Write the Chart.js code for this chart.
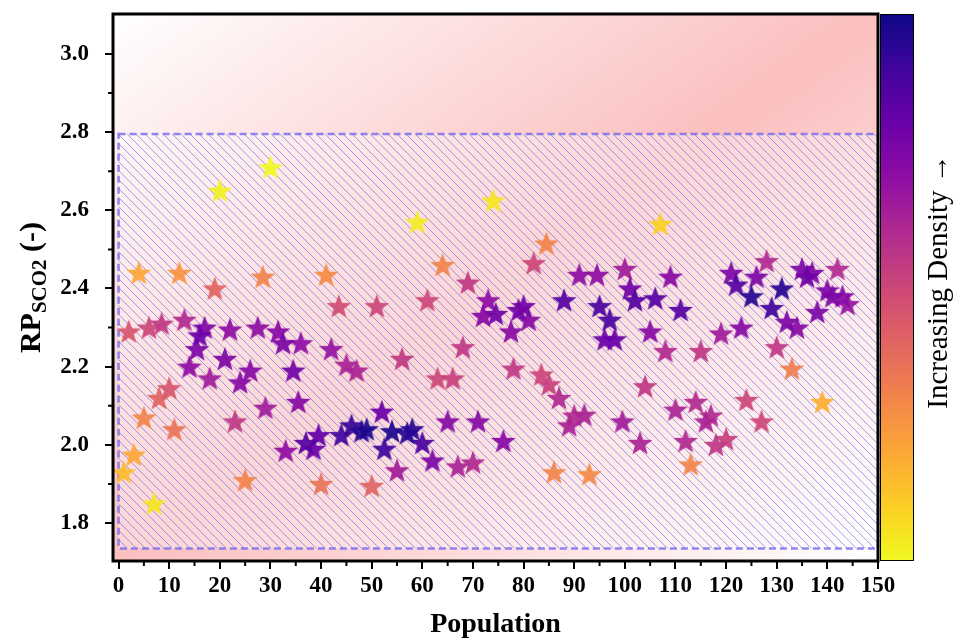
<!DOCTYPE html>
<html>
<head>
<meta charset="utf-8">
<script src="https://cdn.jsdelivr.net/npm/chart.js@4.4.0/dist/chart.umd.min.js"></script>
<style>
  html, body { margin: 0; padding: 0; background: #fff; }
  #wrap { width: 958px; height: 644px; }
</style>
</head>
<body>
<div id="wrap"><canvas id="c"></canvas></div>
<script>
// population index of each solution
const popX = [1, 3, 5, 7, 2, 4, 6, 8.5, 8, 10, 11, 12, 13, 14, 15.5, 16, 17, 18, 19, 20,
  21, 22, 23, 24, 25, 26, 27.5, 28.5, 29, 30, 31.5, 32.5, 33, 34.5, 36, 35.5, 37, 38.5, 39.5, 40,
  41, 42, 43.5, 45, 47, 44, 46, 48, 49, 50, 51, 52, 52.5, 54, 55, 56, 57, 58, 59, 60,
  61, 62, 63, 64, 65, 66, 67, 68, 69, 70, 71, 72, 73, 74, 74.5, 76, 77.5, 78, 79, 80,
  81, 82, 83.5, 84.5, 85, 86, 87, 88, 89, 90, 91, 92, 93, 94.5, 95, 96, 97, 98, 99.5, 100,
  101, 102, 103, 104, 105, 106, 107, 108, 109, 110, 111, 112, 113, 114, 115, 116, 117, 118, 119, 120,
  121, 122, 123, 124, 125, 126, 127, 128, 129, 130, 131, 132, 133, 134, 135, 136, 137, 138, 139, 140,
  141, 142, 143, 144];

// RP_SCO2 values
const rpY = [1.93, 1.975, 2.07, 1.85, 2.29, 2.44, 2.30, 2.31, 2.12, 2.145, 2.04, 2.44, 2.32, 2.20, 2.245, 2.28, 2.30, 2.17, 2.40, 2.65,
  2.22, 2.295, 2.06, 2.16, 1.91, 2.19, 2.30, 2.43, 2.095, 2.71, 2.29, 2.26, 1.985, 2.19, 2.26, 2.11, 2.005, 1.99, 2.025, 1.90,
  2.435, 2.245, 2.355, 2.205, 2.19, 2.025, 2.05, 2.035, 2.04, 1.895, 2.355, 2.085, 1.99, 2.035, 1.935, 2.22, 2.03, 2.04, 2.57, 2.005,
  2.37, 1.96, 2.17, 2.46, 2.06, 2.17, 1.945, 2.25, 2.415, 1.955, 2.06, 2.33, 2.37, 2.625, 2.335, 2.01, 2.29, 2.195, 2.345, 2.355,
  2.32, 2.465, 2.18, 2.515, 2.155, 1.93, 2.12, 2.37, 2.05, 2.075, 2.435, 2.077, 1.925, 2.435, 2.355, 2.27, 2.32, 2.27, 2.06, 2.45,
  2.40, 2.37, 2.005, 2.15, 2.29, 2.375, 2.565, 2.24, 2.43, 2.09, 2.345, 2.01, 1.95, 2.11, 2.24, 2.06, 2.075, 2.00, 2.285, 2.015,
  2.44, 2.41, 2.30, 2.115, 2.38, 2.43, 2.06, 2.47, 2.35, 2.25, 2.40, 2.315, 2.195, 2.30, 2.45, 2.43, 2.44, 2.34, 2.11, 2.395,
  2.38, 2.45, 2.38, 2.36];

// normalised point density (1 = densest)
const density = [0.15, 0.2, 0.3, 0.05, 0.45, 0.2, 0.5, 0.55, 0.4, 0.45, 0.35, 0.25, 0.6, 0.7, 0.75, 0.8, 0.75, 0.65, 0.4, 0.02,
  0.75, 0.7, 0.55, 0.72, 0.3, 0.72, 0.7, 0.3, 0.65, 0.0, 0.72, 0.75, 0.7, 0.78, 0.7, 0.72, 0.85, 0.8, 0.82, 0.35,
  0.28, 0.68, 0.48, 0.62, 0.62, 0.9, 0.92, 0.95, 0.97, 0.4, 0.5, 0.8, 0.9, 0.97, 0.65, 0.55, 0.95, 0.95, 0.03, 0.88,
  0.5, 0.75, 0.5, 0.3, 0.72, 0.52, 0.62, 0.55, 0.55, 0.6, 0.72, 0.72, 0.7, 0.05, 0.78, 0.72, 0.72, 0.55, 0.78, 0.78,
  0.72, 0.5, 0.5, 0.3, 0.52, 0.3, 0.6, 0.85, 0.62, 0.6, 0.7, 0.62, 0.28, 0.7, 0.88, 0.8, 0.88, 0.8, 0.65, 0.65,
  0.78, 0.85, 0.62, 0.55, 0.72, 0.85, 0.1, 0.6, 0.72, 0.62, 0.85, 0.6, 0.3, 0.6, 0.55, 0.62, 0.6, 0.55, 0.65, 0.52,
  0.75, 0.85, 0.72, 0.5, 0.95, 0.75, 0.5, 0.6, 0.9, 0.55, 0.95, 0.75, 0.32, 0.72, 0.75, 0.78, 0.75, 0.75, 0.18, 0.75,
  0.75, 0.6, 0.72, 0.68];

const xTickValues = [0, 10, 20, 30, 40, 50, 60, 70, 80, 90, 100, 110, 120, 130, 140, 150];
const xMinorTicks = [5, 15, 25, 35, 45, 55, 65, 75, 85, 95, 105, 115, 125, 135, 145];
const yTickValues = [1.8, 2.0, 2.2, 2.4, 2.6, 2.8, 3.0];
const yMinorTicks = [1.9, 2.1, 2.3, 2.5, 2.7, 2.9];
// feasible region (hatched box), in data units
const boxX = [0, 150];
const boxY = [1.735, 2.795];

const SERIF = "'Liberation Serif', 'Times New Roman', serif";

// plasma colormap stops
const plasmaStops = ['#0d0887', '#41049d', '#6a00a8', '#8f0da4', '#b12a90', '#cc4778',
  '#e16462', '#f2844b', '#fca636', '#fcce25', '#f0f921'];

function hexToRgb(h) {
  return [parseInt(h.slice(1, 3), 16), parseInt(h.slice(3, 5), 16), parseInt(h.slice(5, 7), 16)];
}
function plasma(t) {
  t = Math.min(1, Math.max(0, t));
  const f = t * (plasmaStops.length - 1);
  const i = Math.min(Math.floor(f), plasmaStops.length - 2);
  const u = f - i;
  const a = hexToRgb(plasmaStops[i]), b = hexToRgb(plasmaStops[i + 1]);
  return 'rgb(' + a.map((v, k) => Math.round(v + (b[k] - v) * u)).join(',') + ')';
}

// filled five-point star images, one per colour
const starCache = {};
function starImage(color) {
  if (starCache[color]) return starCache[color];
  const size = 28, R = 13, r = 5.4;
  const cv = document.createElement('canvas');
  cv.width = size; cv.height = size;
  const g = cv.getContext('2d');
  g.beginPath();
  for (let k = 0; k < 10; k++) {
    const rad = k % 2 === 0 ? R : r;
    const ang = -Math.PI / 2 + k * Math.PI / 5;
    const px = size / 2 + rad * Math.cos(ang), py = size / 2 + 1 + rad * Math.sin(ang);
    k === 0 ? g.moveTo(px, py) : g.lineTo(px, py);
  }
  g.closePath();
  g.globalAlpha = 0.93;
  g.fillStyle = color;
  g.fill();
  starCache[color] = cv;
  return cv;
}

// draw the densest points last so they sit on top
const order = popX.map((_, i) => i).sort((a, b) => density[a] - density[b]);
const points = order.map(i => ({ x: popX[i], y: rpY[i], d: density[i] }));

const backdrop = {
  id: 'backdrop',
  beforeDraw(chart) {
    const { ctx, chartArea: a, scales: { x, y } } = chart;
    ctx.save();
    // diagonal pink wash over the plot area
    ctx.translate(a.left, a.top);
    ctx.scale(a.width, a.height);
    const g = ctx.createLinearGradient(0, 0, 1, 1);
    g.addColorStop(0, '#ffffff');
    g.addColorStop(0.5, '#fbbfbf');
    g.addColorStop(1, '#ffffff');
    ctx.fillStyle = g;
    ctx.fillRect(0, 0, 1, 1);
    ctx.restore();

    // hatched feasible box
    const l = x.getPixelForValue(boxX[0]), r = x.getPixelForValue(boxX[1]);
    const t = y.getPixelForValue(boxY[1]), b = y.getPixelForValue(boxY[0]);
    ctx.save();
    ctx.fillStyle = 'rgba(255,255,255,0.35)';
    ctx.fillRect(l, t, r - l, b - t);
    ctx.beginPath();
    ctx.rect(l, t, r - l, b - t);
    ctx.clip();
    ctx.strokeStyle = 'rgba(95,95,240,0.6)';
    ctx.lineWidth = 1;
    ctx.beginPath();
    const h = b - t;
    for (let s = l - h; s < r + 9; s += 9) {
      ctx.moveTo(s, t);
      ctx.lineTo(s + h, b);
    }
    ctx.stroke();
    ctx.restore();

    ctx.save();
    ctx.strokeStyle = 'rgba(115,105,240,0.8)';
    ctx.lineWidth = 2.5;
    ctx.setLineDash([7, 4]);
    ctx.strokeRect(l, t, r - l, b - t);
    ctx.restore();
  },
  afterDraw(chart) {
    const { ctx, chartArea: a, scales: { x, y } } = chart;
    ctx.save();
    // minor ticks
    ctx.strokeStyle = '#000';
    ctx.lineWidth = 2;
    ctx.beginPath();
    xMinorTicks.forEach(v => {
      const px = x.getPixelForValue(v);
      ctx.moveTo(px, a.bottom); ctx.lineTo(px, a.bottom + 5);
    });
    yMinorTicks.forEach(v => {
      const py = y.getPixelForValue(v);
      ctx.moveTo(a.left, py); ctx.lineTo(a.left - 5, py);
    });
    ctx.stroke();

    // frame
    ctx.lineWidth = 3;
    ctx.strokeRect(a.left, a.top, a.width, a.height);

    // colour bar
    const cx = a.right + 2, cw = 33;
    const cg = ctx.createLinearGradient(0, a.bottom, 0, a.top);
    plasmaStops.slice().reverse().forEach((c, k) => cg.addColorStop(k / (plasmaStops.length - 1), c));
    ctx.fillStyle = cg;
    ctx.fillRect(cx, a.top, cw, a.height);
    ctx.lineWidth = 1;
    ctx.strokeRect(cx + 0.5, a.top + 0.5, cw, a.height - 1);

    ctx.fillStyle = '#000';
    ctx.translate(939, (a.top + a.bottom) / 2 - 6);
    ctx.rotate(-Math.PI / 2);
    ctx.font = '29px ' + SERIF;
    ctx.textAlign = 'center';
    ctx.textBaseline = 'middle';
    ctx.fillText('Increasing Density \u2192', 0, 0);
    ctx.restore();

    // y axis title with subscript
    ctx.save();
    ctx.fillStyle = '#000';
    ctx.translate(30, (a.top + a.bottom) / 2);
    ctx.rotate(-Math.PI / 2);
    ctx.textBaseline = 'alphabetic';
    const big = 'bold 30px ' + SERIF, small = 'bold 21px ' + SERIF;
    ctx.font = big; const w1 = ctx.measureText('RP').width; const w3 = ctx.measureText(' (-)').width;
    ctx.font = small; const w2 = ctx.measureText('SCO2').width;
    let sx = -(w1 + w2 + w3) / 2;
    const base = 10;
    ctx.font = big; ctx.fillText('RP', sx, base); sx += w1;
    ctx.font = small; ctx.fillText('SCO2', sx, base + 6); sx += w2;
    ctx.font = big; ctx.fillText(' (-)', sx, base);
    ctx.restore();
  }
};

new Chart(document.getElementById('c'), {
  type: 'scatter',
  data: {
    datasets: [{
      data: points,
      pointStyle: c => starImage(plasma(1 - c.raw.d)),
      pointRadius: 13
    }]
  },
  options: {
    responsive: true,
    maintainAspectRatio: false,
    animation: false,
    events: [],
    layout: { padding: { top: 12, right: 80, left: 0, bottom: 0 } },
    plugins: { legend: { display: false }, tooltip: { enabled: false } },
    scales: {
      x: {
        type: 'linear',
        min: -1.1,
        max: 150,
        afterBuildTicks: s => { s.ticks = xTickValues.map(v => ({ value: v })); },
        afterFit: s => { s.height = 83; s.paddingLeft = 0; s.paddingRight = 0; },
        grid: { drawOnChartArea: false, drawTicks: true, tickLength: 8, color: '#000', lineWidth: 2 },
        border: { display: false },
        ticks: { color: '#000', padding: 3, maxRotation: 0, font: { family: SERIF, size: 23, weight: 'bold' } },
        title: { display: true, text: 'Population', color: '#000', padding: { top: 0, bottom: 2 },
          font: { family: SERIF, size: 28, weight: 'bold' } }
      },
      y: {
        type: 'linear',
        min: 1.703,
        max: 3.102,
        afterBuildTicks: s => { s.ticks = yTickValues.map(v => ({ value: v })); },
        afterFit: s => { s.width = 113; s.paddingTop = 0; s.paddingBottom = 0; },
        grid: { drawOnChartArea: false, drawTicks: true, tickLength: 8, color: '#000', lineWidth: 2 },
        border: { display: false },
        ticks: { color: '#000', padding: 16, callback: v => v.toFixed(1),
          font: { family: SERIF, size: 23, weight: 'bold' } }
      }
    }
  },
  plugins: [backdrop]
});
</script>
</body>
</html>
